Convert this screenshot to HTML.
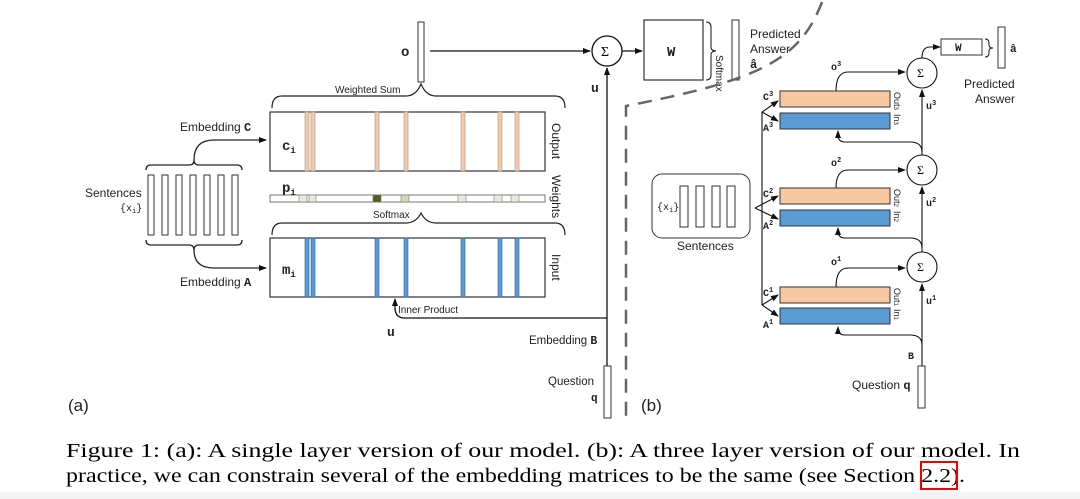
<!DOCTYPE html>
<html><head><meta charset="utf-8"><style>
html,body{margin:0;padding:0;background:#fff;}
svg{display:block;}
.s{font-family:"Liberation Sans",sans-serif;fill:#222;}
.m{font-family:"Liberation Mono",monospace;fill:#222;}
.t{font-family:"Liberation Serif",serif;fill:#000;}
</style></head><body>
<svg width="1080" height="499" viewBox="0 0 1080 499" xmlns="http://www.w3.org/2000/svg">
<defs>
<marker id="ar" markerWidth="8" markerHeight="8" refX="7" refY="4" orient="auto" markerUnits="userSpaceOnUse"><path d="M0,1 L8,4 L0,7 z" fill="#111"/></marker>
</defs>
<rect x="0" y="492" width="1080" height="7" fill="#f4f4f4"/>
<g stroke="#222" stroke-width="1.3" fill="none">
<!-- sentences left -->
<path d="M146,170 q0,-5 5,-5 h38 q5,0 5,-5 q0,5 5,5 h38 q5,0 5,5"/>
<path d="M146,240 q0,5 5,5 h38 q5,0 5,5 q0,-5 5,-5 h38 q5,0 5,-5"/>
<path d="M194,160 q0,-20 20,-20 h52" marker-end="url(#ar)"/>
<path d="M194,250 q0,18 20,18 h52" marker-end="url(#ar)"/>
</g>
<g fill="#fff" stroke="#333" stroke-width="1">
<rect x="148" y="175" width="6" height="60"/><rect x="162" y="175" width="6" height="60"/><rect x="176" y="175" width="6" height="60"/><rect x="190" y="175" width="6" height="60"/><rect x="204" y="175" width="6" height="60"/><rect x="218" y="175" width="6" height="60"/><rect x="232" y="175" width="6" height="60"/>
</g>
<text class="s" x="85" y="197" font-size="12">Sentences</text>
<text class="m" x="120" y="211" font-size="10">{x<tspan font-size="7" dy="2">i</tspan><tspan dy="-2">}</tspan></text>
<text class="s" x="180" y="131" font-size="12">Embedding <tspan class="m" font-weight="bold">C</tspan></text>
<text class="s" x="180" y="286" font-size="12">Embedding <tspan class="m" font-weight="bold">A</tspan></text>
<!-- output box -->
<rect x="270" y="112" width="275" height="59" fill="#fff" stroke="#333" stroke-width="1.2"/>
<g fill="#f8c9a0" stroke="#999" stroke-width="0.6">
<rect x="305" y="112" width="4" height="59"/><rect x="311" y="112" width="4" height="59"/><rect x="375" y="112" width="4" height="59"/><rect x="404" y="112" width="4" height="59"/><rect x="461" y="112" width="4" height="59"/><rect x="498" y="112" width="4" height="59"/><rect x="515" y="112" width="4" height="59"/>
</g>
<text class="m" x="282" y="150" font-size="14" font-weight="bold">c<tspan font-size="9" dy="3">i</tspan></text>
<!-- weights -->
<rect x="270" y="195" width="275" height="7" fill="#fff" stroke="#555" stroke-width="0.8"/>
<g stroke="#777" stroke-width="0.6">
<rect x="299" y="195" width="8" height="7" fill="#e6ecd8"/><rect x="309" y="195" width="7" height="7" fill="#e6ecd8"/><rect x="373" y="195" width="8" height="7" fill="#4a6320"/><rect x="401" y="195" width="8" height="7" fill="#cfdcae"/><rect x="458" y="195" width="8" height="7" fill="#e6ecd8"/><rect x="494" y="195" width="8" height="7" fill="#e6ecd8"/><rect x="511" y="195" width="8" height="7" fill="#e6ecd8"/>
</g>
<text class="m" x="282" y="192" font-size="14" font-weight="bold">p<tspan font-size="9" dy="3">i</tspan></text>
<!-- input box -->
<rect x="270" y="238" width="275" height="59" fill="#fff" stroke="#333" stroke-width="1.2"/>
<g fill="#5b9bd5" stroke="#2d5f8f" stroke-width="0.6">
<rect x="305" y="238" width="4" height="59"/><rect x="311" y="238" width="4" height="59"/><rect x="375" y="238" width="4" height="59"/><rect x="404" y="238" width="4" height="59"/><rect x="461" y="238" width="4" height="59"/><rect x="498" y="238" width="4" height="59"/><rect x="515" y="238" width="4" height="59"/>
</g>
<text class="m" x="282" y="274" font-size="14" font-weight="bold">m<tspan font-size="9" dy="3">i</tspan></text>
<g class="s" font-size="11">
<text transform="translate(552,123) rotate(90)" font-size="12">Output</text>
<text transform="translate(552,175) rotate(90)" font-size="12">Weights</text>
<text transform="translate(552,254) rotate(90)" font-size="12">Input</text>
</g>
<g stroke="#222" stroke-width="1.2" fill="none">
<path d="M272,108 q0,-12 10,-12 h124 q10,0 15,-12 q5,12 15,12 h119 q10,0 10,12"/>
<path d="M272,235 q0,-12 10,-12 h124 q10,0 15,-10 q5,10 15,10 h119 q10,0 10,12"/>
</g>
<text class="s" x="335" y="93" font-size="10">Weighted Sum</text>
<text class="s" x="373" y="218" font-size="10">Softmax</text>
<!-- o vector & sum -->
<rect x="418" y="22" width="6" height="60" fill="#fff" stroke="#333" stroke-width="1"/>
<text class="m" x="401" y="56" font-size="14" font-weight="bold">o</text>
<g stroke="#111" stroke-width="1.3" fill="none">
<line x1="430" y1="51" x2="590" y2="51" marker-end="url(#ar)"/>
<circle cx="607" cy="51" r="15" fill="#fff"/>
<line x1="622" y1="51" x2="642" y2="51" marker-end="url(#ar)"/>
<line x1="607" y1="366" x2="607" y2="68" marker-end="url(#ar)"/>
<path d="M607,318 H405 q-10,0 -10,-10 V299" marker-end="url(#ar)"/>
<path d="M706,22 q5,0 5,5 v20 q0,4 5,4 q-5,0 -5,4 v20 q0,5 -5,5" stroke-width="1"/>
</g>
<text class="t" x="601" y="56" font-size="14">Σ</text>
<text class="m" x="591" y="92" font-size="13" font-weight="bold">u</text>
<text class="m" x="387" y="336" font-size="13" font-weight="bold">u</text>
<text class="s" x="398" y="313" font-size="10">Inner Product</text>
<text class="s" x="529" y="344" font-size="11.5">Embedding <tspan class="m" font-weight="bold">B</tspan></text>
<text class="s" x="548" y="385" font-size="11.5">Question</text>
<text class="m" x="591" y="401" font-size="11" font-weight="bold">q</text>
<rect x="604" y="366" width="7" height="52" fill="#fff" stroke="#333" stroke-width="1"/>
<rect x="644" y="20" width="59" height="60" fill="#fff" stroke="#333" stroke-width="1.2"/>
<text class="m" x="667" y="56" font-size="14" font-weight="bold">W</text>
<text class="s" transform="translate(716,55) rotate(90)" font-size="10">Softmax</text>
<rect x="732" y="20" width="7" height="60" fill="#fff" stroke="#333" stroke-width="1"/>
<text class="s" x="750" y="38" font-size="12">Predicted</text>
<text class="s" x="750" y="53" font-size="12">Answer</text>
<text class="m" x="750" y="68" font-size="12" font-weight="bold">â</text>
<!-- dashed line -->
<path d="M822,2 C800,60 760,80 626,106 V420" stroke="#666" stroke-width="2.5" fill="none" stroke-dasharray="14,9"/>
<text class="s" x="68" y="411" font-size="17">(a)</text>
<text class="s" x="641" y="411" font-size="17">(b)</text>
<!-- right diagram -->
<rect x="652" y="174" width="98" height="64" rx="10" fill="#fff" stroke="#333" stroke-width="1"/>
<g fill="#fff" stroke="#333" stroke-width="1">
<rect x="680" y="186" width="8" height="41"/><rect x="696" y="186" width="8" height="41"/><rect x="712" y="186" width="8" height="41"/><rect x="727" y="186" width="8" height="41"/>
</g>
<text class="m" x="657" y="210" font-size="10">{x<tspan font-size="7" dy="2">i</tspan><tspan dy="-2">}</tspan></text>
<text class="s" x="677" y="250" font-size="12">Sentences</text>
<g stroke="#111" stroke-width="1.1" fill="none">
<path d="M755,208 L778,196" marker-end="url(#ar)"/><path d="M755,208 L778,219" marker-end="url(#ar)"/>
<path d="M762,112 V305"/>
<path d="M762,112 L778,101" marker-end="url(#ar)"/><path d="M762,112 L778,121" marker-end="url(#ar)"/>
<path d="M762,305 L778,295" marker-end="url(#ar)"/><path d="M762,305 L778,316" marker-end="url(#ar)"/>
<line x1="922" y1="366" x2="922" y2="284" marker-end="url(#ar)"/>
<line x1="922" y1="252" x2="922" y2="187" marker-end="url(#ar)"/>
<line x1="922" y1="155" x2="922" y2="90" marker-end="url(#ar)"/>
<path d="M922,345 q0,-10 -12,-10 H845 q-7,0 -7,-7 V327" marker-end="url(#ar)"/>
<path d="M922,248 q0,-10 -12,-10 H845 q-7,0 -7,-7 V228" marker-end="url(#ar)"/>
<path d="M922,152 q0,-10 -12,-10 H845 q-7,0 -7,-7 V131" marker-end="url(#ar)"/>
<path d="M836,91 q0,-19 12,-19 H905" marker-end="url(#ar)"/>
<path d="M836,188 q0,-18 12,-18 H905" marker-end="url(#ar)"/>
<path d="M836,287 q0,-19 12,-19 H905" marker-end="url(#ar)"/>
<path d="M922,58 q0,-11 8,-11 H940" marker-end="url(#ar)"/>
<circle cx="922" cy="73" r="15" fill="#fff"/><circle cx="922" cy="170" r="15" fill="#fff"/><circle cx="922" cy="267" r="15" fill="#fff"/>
<path d="M985,39 q4,0 4,4 v2 q0,3 4,3 q-4,0 -4,3 v2 q0,4 -4,4" stroke-width="1"/>
</g>
<g font-size="12"><text class="t" x="917" y="77">Σ</text><text class="t" x="917" y="174">Σ</text><text class="t" x="917" y="271">Σ</text></g>
<g stroke="#333" stroke-width="1">
<rect x="780" y="91" width="110" height="16" fill="#f8c9a0"/><rect x="780" y="113" width="110" height="16" fill="#5b9bd5"/>
<rect x="780" y="188" width="110" height="16" fill="#f8c9a0"/><rect x="780" y="210" width="110" height="16" fill="#5b9bd5"/>
<rect x="780" y="287" width="110" height="16" fill="#f8c9a0"/><rect x="780" y="308" width="110" height="16" fill="#5b9bd5"/>
</g>
<g class="m" font-size="10" font-weight="bold">
<text x="763" y="100">C<tspan font-size="7" dy="-4">3</tspan></text><text x="763" y="131">A<tspan font-size="7" dy="-4">3</tspan></text>
<text x="763" y="197">C<tspan font-size="7" dy="-4">2</tspan></text><text x="763" y="229">A<tspan font-size="7" dy="-4">2</tspan></text>
<text x="763" y="296">C<tspan font-size="7" dy="-4">1</tspan></text><text x="763" y="328">A<tspan font-size="7" dy="-4">1</tspan></text>
<text x="831" y="70">o<tspan font-size="7" dy="-4">3</tspan></text><text x="831" y="166">o<tspan font-size="7" dy="-4">2</tspan></text><text x="831" y="265">o<tspan font-size="7" dy="-4">1</tspan></text>
<text x="926" y="109">u<tspan font-size="7" dy="-4">3</tspan></text><text x="926" y="206">u<tspan font-size="7" dy="-4">2</tspan></text><text x="926" y="304">u<tspan font-size="7" dy="-4">1</tspan></text>
<text x="908" y="359">B</text>
</g>
<g class="s" font-size="9">
<text transform="translate(894,92) rotate(90)">Out<tspan font-size="6">3</tspan></text><text transform="translate(894,114) rotate(90)">In<tspan font-size="6">3</tspan></text>
<text transform="translate(894,189) rotate(90)">Out<tspan font-size="6">2</tspan></text><text transform="translate(894,211) rotate(90)">In<tspan font-size="6">2</tspan></text>
<text transform="translate(894,288) rotate(90)">Out<tspan font-size="6">1</tspan></text><text transform="translate(894,309) rotate(90)">In<tspan font-size="6">1</tspan></text>
</g>
<rect x="941" y="39" width="41" height="16" fill="#fff" stroke="#333" stroke-width="1"/>
<text class="m" x="955" y="51" font-size="11" font-weight="bold">W</text>
<rect x="998" y="27" width="7" height="41" fill="#fff" stroke="#333" stroke-width="1"/>
<text class="m" x="1010" y="52" font-size="11" font-weight="bold">â</text>
<text class="s" x="964" y="88" font-size="12">Predicted</text>
<text class="s" x="975" y="103" font-size="12">Answer</text>
<rect x="918" y="366" width="7" height="42" fill="#fff" stroke="#333" stroke-width="1"/>
<text class="s" x="852" y="389" font-size="12">Question <tspan class="m" font-weight="bold">q</tspan></text>
<!-- caption -->
<text class="t" x="66" y="457" font-size="20" textLength="954" lengthAdjust="spacingAndGlyphs">Figure 1: (a): A single layer version of our model.  (b): A three layer version of our model.  In</text>
<text class="t" x="66" y="482" font-size="20" textLength="899" lengthAdjust="spacingAndGlyphs">practice, we can constrain several of the embedding matrices to be the same (see Section 2.2).</text>
<rect x="921" y="462" width="36" height="27" fill="none" stroke="#e00" stroke-width="2"/>
</svg>
</body></html>
